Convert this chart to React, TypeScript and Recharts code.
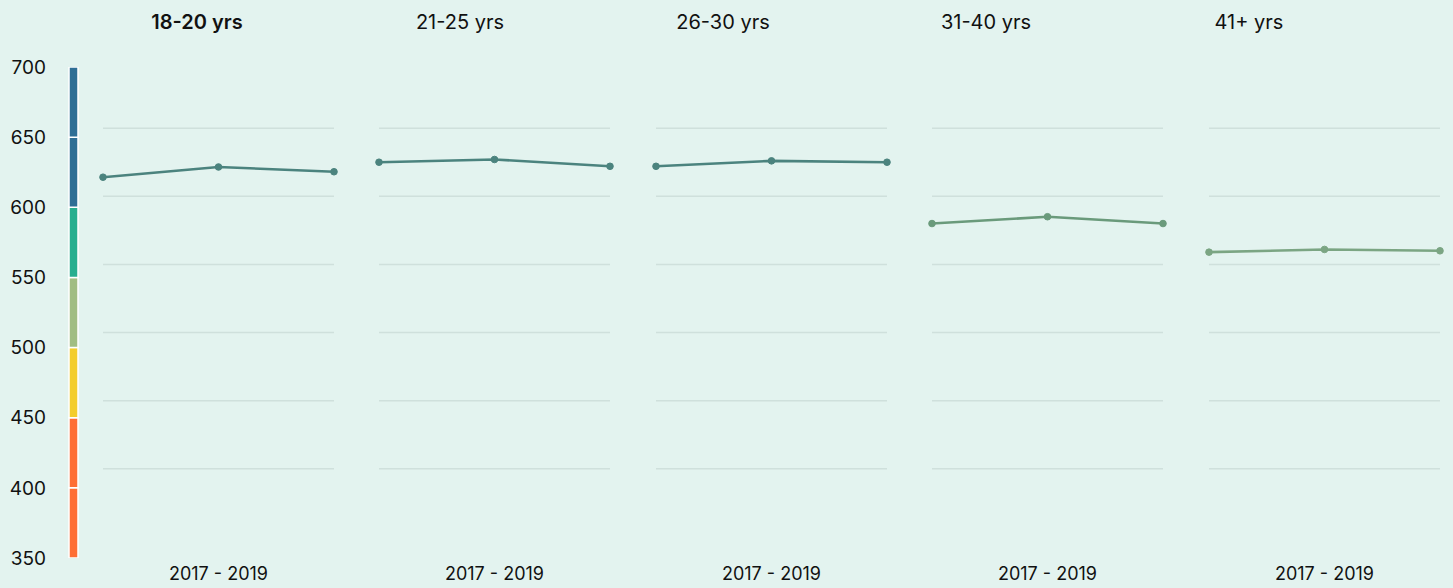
import React from "react";
import {
  Bar,
  BarChart,
  Line,
  LineChart,
  ReferenceLine,
  XAxis,
  YAxis
} from "recharts";

const years = ["2017", "2018", "2019"];
const groups = ["18-20 yrs", "21-25 yrs", "26-30 yrs", "31-40 yrs", "41+ yrs"];

const scores1820 = [614, 621.5, 618];
const scores2125 = [625, 627, 622];
const scores2630 = [622, 626, 625];
const scores3140 = [580, 585, 580];
const scores41 = [559, 561, 560];

const scaleTicks = [350, 400, 450, 500, 550, 600, 650, 700];
const gridTicks = [400, 450, 500, 550, 600, 650];
// colour bands on the left scale, bottom to top, 50 points each
const bandColors = ["#fe6e35", "#fe6e35", "#f3cd2c", "#a1bd82", "#28ae8f", "#2f6e95", "#2f6e95"];

const lineColors = ["#4b837e", "#4b837e", "#4b837e", "#6a9a7b", "#7ba583"];

const allScores = [scores1820, scores2125, scores2630, scores3140, scores41];

const FONT = "Inter, 'Noto Sans', sans-serif";
const BG = "#e3f3ef";
const CHART_H = 588;
const PAD = 6; // room for the end dots

function ScaleBar() {
  const row: Record<string, number | string> = { name: "scale", base: scaleTicks[0] };
  bandColors.forEach((_, i) => {
    row["b" + i] = scaleTicks[i + 1] - scaleTicks[i];
  });
  return (
    <BarChart
      width={83}
      height={CHART_H}
      data={[row]}
      margin={{ top: 67, right: 0, left: 0, bottom: 30 }}
      barCategoryGap={0}
    >
      <XAxis dataKey="name" hide />
      <YAxis
        domain={[350, 700]}
        ticks={scaleTicks}
        allowDataOverflow
        width={63}
        axisLine={false}
        tickLine={false}
        tickSize={0}
        tickMargin={17}
        tick={{ fill: "#111", fontSize: 19, fontFamily: FONT }}
      />
      <Bar dataKey="base" stackId="s" fill="none" barSize={9} isAnimationActive={false} />
      {bandColors.map((c, i) => (
        <Bar
          key={i}
          dataKey={"b" + i}
          stackId="s"
          fill={c}
          stroke="#ffffff"
          strokeWidth={1.5}
          barSize={9}
          isAnimationActive={false}
        />
      ))}
    </BarChart>
  );
}

function Panel({ values, color }: { values: number[]; color: string }) {
  const data = years.map((y, i) => ({ year: y, score: values[i] }));
  return (
    <LineChart
      width={231 + PAD * 2}
      height={CHART_H}
      data={data}
      margin={{ top: 60, right: PAD, left: PAD, bottom: 0 }}
    >
      <XAxis
        dataKey="year"
        height={51}
        axisLine={false}
        tickLine={false}
        tickSize={0}
        tickMargin={30}
        interval={0}
        padding={{ left: 0, right: 0 }}
        tickFormatter={(_v: string, i: number) => (i === 1 ? "2017 - 2019" : "")}
        tick={{ fill: "#111", fontSize: 18, fontFamily: FONT }}
      />
      <YAxis hide domain={[350, 700]} />
      {gridTicks.map((t) => (
        <ReferenceLine key={t} y={t} stroke="#cfe0dc" strokeWidth={1.5} />
      ))}
      <Line
        type="linear"
        dataKey="score"
        stroke={color}
        strokeWidth={2.6}
        dot={{ r: 3.3, fill: color, stroke: color, strokeWidth: 1 }}
        isAnimationActive={false}
      />
    </LineChart>
  );
}

const panelLefts = [103, 379, 656, 932, 1209];

export default function App() {
  return (
    <div
      style={{
        position: "absolute",
        left: 0,
        top: 0,
        width: 1453,
        height: CHART_H,
        background: BG,
        fontFamily: FONT,
        overflow: "hidden"
      }}
    >
      <div style={{ position: "absolute", left: 0, top: 0 }}>
        <ScaleBar />
      </div>
      {allScores.map((vals, i) => (
        <div key={groups[i]} style={{ position: "absolute", left: panelLefts[i] - PAD, top: 0 }}>
          <Panel values={vals} color={lineColors[i]} />
        </div>
      ))}
      {groups.map((g, i) => (
        <div
          key={"t" + g}
          style={{
            position: "absolute",
            left: 65.5 + i * 263,
            top: 8,
            width: 263,
            height: 28,
            lineHeight: "28px",
            textAlign: "center",
            fontSize: 20,
            fontWeight: i === 0 ? 600 : 400,
            color: "#111"
          }}
        >
          {g}
        </div>
      ))}
    </div>
  );
}
